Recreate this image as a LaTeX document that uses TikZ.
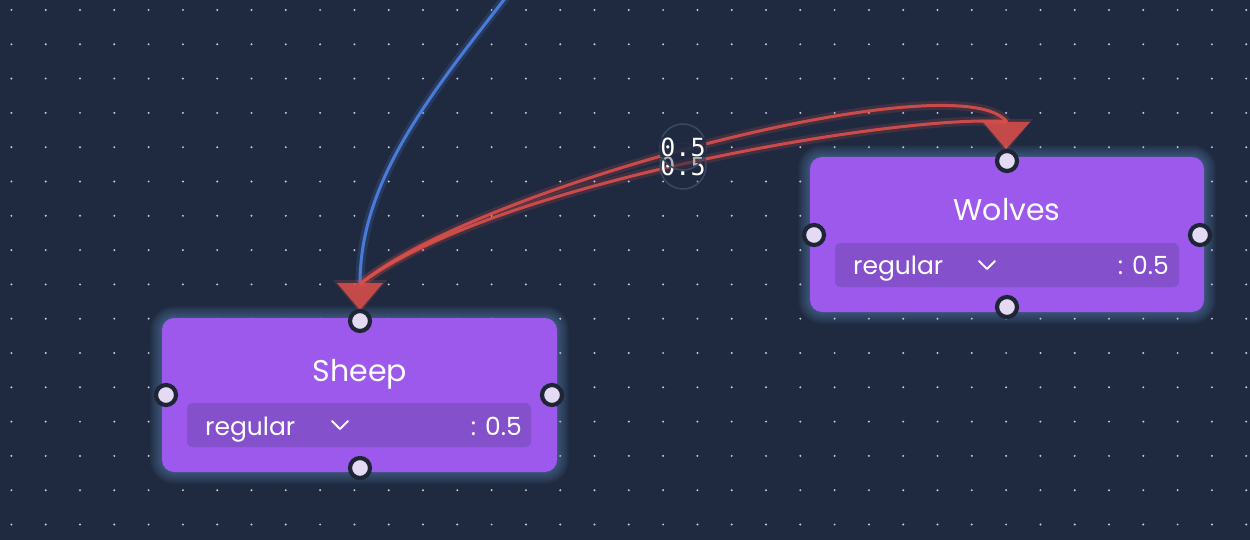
\documentclass[tikz,border=0pt]{standalone}
\usepackage{fontspec}
\setmainfont{Poppins}
\newfontfamily\monofont{DejaVu Sans Mono}
\usetikzlibrary{calc}
\definecolor{bgc}{HTML}{1F2A40}
\definecolor{dotc}{HTML}{C4CCDC}
\definecolor{nodec}{HTML}{9D58EC}
\definecolor{rowc}{HTML}{8550CC}
\definecolor{portfill}{HTML}{E4DAF4}
\definecolor{portline}{HTML}{1E2536}
\definecolor{redc}{HTML}{DA4F4A}
\definecolor{bluec}{HTML}{4A7BD8}
\definecolor{glowc}{HTML}{78AAE6}
\definecolor{labline}{HTML}{3A4862}
\tikzset{
  nodebox/.style={fill=nodec, rounded corners=12pt, inner sep=0pt},
  rowbox/.style={fill=rowc, rounded corners=6pt, inner sep=0pt},
  titletext/.style={text=white, inner sep=0pt, font=\fontsize{30}{34}\selectfont},
  rowtext/.style={text=white, inner sep=0pt, font=\fontsize{25}{29}\selectfont},
  port/.style={circle, fill=portfill, draw=portline, line width=4.2pt, minimum size=20pt, inner sep=0pt},
  chevron/.style={white, line width=1.8pt, line cap=round, line join=round},
  rededge/.style={redc, line width=3pt, opacity=0.9},
  redglow/.style={redc, line width=9pt, opacity=0.18},
  blueedge/.style={bluec, line width=3pt},
  blueglow/.style={bluec, line width=9pt, opacity=0.2},
  arrowtri/.style={fill=redc, opacity=0.85},
  labcircle/.style={circle, draw=labline, line width=1.5pt, fill=bgc, fill opacity=0.35, minimum size=46pt, inner sep=0pt},
  labtext/.style={text=white, inner sep=0.5pt, font=\monofont\fontsize{25}{28}\selectfont},
}
\begin{document}
\begin{tikzpicture}[x=1pt,y=-1pt]
\fill[bgc] (0,0) rectangle (1250,540);
\useasboundingbox (0,0) rectangle (1250,540);
% dot grid
\foreach \i in {0,...,36} {
  \foreach \j in {0,...,15} {
    \fill[dotc] ({11.4+34.3*\i},{10+34.3*\j}) circle (1.1);
  }
}
% glows
\foreach \k in {1,...,12} {
  \fill[glowc, opacity=0.035, rounded corners={12+\k}] ({162-\k},{318-\k}) rectangle ({557+\k},{472+\k});
  \fill[glowc, opacity=0.035, rounded corners={12+\k}] ({810-\k},{157-\k}) rectangle ({1204+\k},{312+\k});
}
% Sheep node
\node[nodebox, minimum width=395pt, minimum height=154pt] (sheep) at (359.5,395) {};
\node[titletext, anchor=base] (sheep-title) at (360,381) {Sheep};
\node[rowbox, minimum width=344pt, minimum height=44pt] (sheep-row) at (359,425) {};
\node[rowtext, anchor=base west] (sheep-kind) at (205,435) {regular};
\node[rowtext, anchor=base east] (sheep-val) at (522,435) {: 0.5};
\coordinate (sheep-chev) at (340,425);
\draw[chevron] ($(sheep-chev)+(-8,-4)$) -- ($(sheep-chev)+(0,4)$) -- ($(sheep-chev)+(8,-4)$);
% Wolves node
\node[nodebox, minimum width=394pt, minimum height=155pt] (wolves) at (1007,234.5) {};
\node[titletext, anchor=base] (wolves-title) at (1007,221) {Wolves};
\node[rowbox, minimum width=344pt, minimum height=44pt] (wolves-row) at (1007,265) {};
\node[rowtext, anchor=base west] (wolves-kind) at (853,274) {regular};
\node[rowtext, anchor=base east] (wolves-val) at (1169,274) {: 0.5};
\coordinate (wolves-chev) at (987,265);
\draw[chevron] ($(wolves-chev)+(-8,-4)$) -- ($(wolves-chev)+(0,4)$) -- ($(wolves-chev)+(8,-4)$);
% port anchors
\coordinate (sheep-in) at (360,284);
\coordinate (sheep-tip) at (360,310);
\coordinate (wolves-in) at (1007,122);
\coordinate (wolves-tip) at (1006,149);
\coordinate (blue-src) at (510,-8);
% blue edge
\draw[blueglow] (blue-src) .. controls (430,95) and (360,180) .. (sheep-in);
\draw[blueedge] (blue-src) .. controls (430,95) and (360,180) .. (sheep-in);
% red edges
\draw[redglow] (sheep-in) .. controls (480,185) and (960,60) .. (wolves-in);
\draw[redglow] (wolves-in) .. controls (920,112) and (500,178) .. (sheep-in);
\draw[rededge] (sheep-in) .. controls (480,185) and (960,60) .. (wolves-in);
\draw[rededge] (wolves-in) .. controls (920,112) and (500,178) .. (sheep-in);
% arrowheads
\fill[redc, opacity=0.2] ($(sheep-tip)+(-27,-30)$) -- ($(sheep-tip)+(27,-30)$) -- ($(sheep-tip)+(0,3)$) -- cycle;
\fill[arrowtri] ($(sheep-tip)+(-23,-27)$) -- ($(sheep-tip)+(23,-27)$) -- (sheep-tip) -- cycle;
\fill[redc, opacity=0.2] ($(wolves-tip)+(-27,-30)$) -- ($(wolves-tip)+(27,-30)$) -- ($(wolves-tip)+(0,3)$) -- cycle;
\fill[arrowtri] ($(wolves-tip)+(-23,-27)$) -- ($(wolves-tip)+(24,-27)$) -- (wolves-tip) -- cycle;
% ports
\node[port] (sheep-top) at (360,321) {};
\node[port] (sheep-left) at (166,395) {};
\node[port] (sheep-right) at (552,395) {};
\node[port] (sheep-bottom) at (360,468) {};
\node[port] (wolves-top) at (1007,161) {};
\node[port] (wolves-left) at (814,235) {};
\node[port] (wolves-right) at (1200,235) {};
\node[port] (wolves-bottom) at (1007,307) {};
% edge labels
\node[labcircle] (lab2c) at (683,166) {};
\node[labtext] (lab2) at (683,166) {0.5};
\node[labcircle] (lab1c) at (683,147) {};
\node[labtext, fill=bgc, fill opacity=0.75, text opacity=1] (lab1) at (683,147) {0.5};
\end{tikzpicture}
\end{document}
